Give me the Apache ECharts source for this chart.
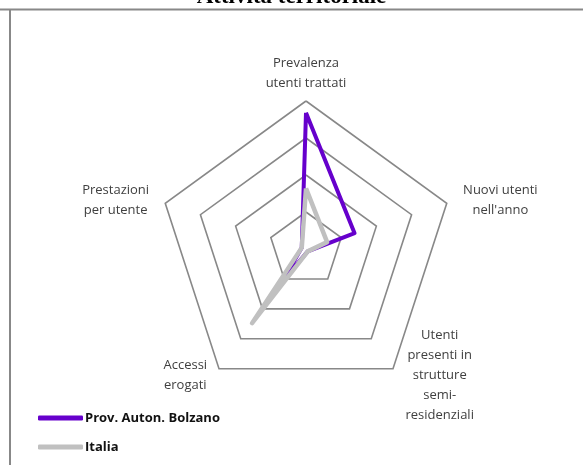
<!DOCTYPE html>
<html style="height: 100%;width: 100%">
<head>
    <meta charset="utf-8">
    <script src="https://cdn.jsdelivr.net/npm/echarts@6/dist/echarts.min.js"></script>
    <style>
        body { margin: 0; background: #fff; }
    </style>
</head>
<body>
<div id="container" style="width: 583px;height: 465px"></div>
<script type="text/javascript">
// indicators listed counter-clockwise from the top (ECharts radar order)
var indicators = [
    'Prevalenza\nutenti trattati',
    'Prestazioni\nper utente',
    'Accessi\nerogati',
    'Utenti\npresenti in\nstrutture\nsemi-\nresidenziali',
    'Nuovi utenti\nnell\'anno'
];
var seriesNames = ['Prov. Auton. Bolzano', 'Italia'];
var bolzano = [0.92, 0.03, 0.27, 0.02, 0.345];
var italia = [0.41, 0.03, 0.62, 0.02, 0.15];

// label box widths so each multi-line name is centred like the original
var nameWidths = [110, 84, 58, 84, 92];
var rich = {};
nameWidths.forEach(function (w, i) {
    rich['n' + i] = { align: 'center', width: w, color: '#404040', fontFamily: 'Open Sans', fontSize: 13, lineHeight: 20 };
});

var myChart = echarts.init(document.getElementById('container'));

var option = {
    backgroundColor: '#ffffff',
    title: {
        text: 'Attività territoriale',
        left: 'center',
        top: -19,
        textStyle: { fontFamily: 'Liberation Serif', fontWeight: 'bold', fontSize: 23, color: '#000' }
    },
    graphic: [
        { type: 'line', shape: { x1: 0, y1: 9.5, x2: 583, y2: 9.5 }, style: { stroke: '#888', lineWidth: 2 } },
        { type: 'line', shape: { x1: 10, y1: 9, x2: 10, y2: 465 }, style: { stroke: '#888', lineWidth: 2 } }
    ],
    legend: {
        orient: 'vertical',
        left: 38,
        top: 409,
        height: 56,
        padding: 0,
        itemWidth: 45,
        itemHeight: 5,
        itemGap: 11,
        icon: 'roundRect',
        data: seriesNames,
        textStyle: { fontFamily: 'Open Sans', fontWeight: 'bold', fontSize: 13, color: '#111', padding: [0, 0, 0, -3], lineHeight: 18 }
    },
    radar: {
        center: [306, 249],
        radius: 148,
        shape: 'polygon',
        splitNumber: 4,
        nameGap: 8,
        indicator: indicators.map(function (n) { return { name: n, max: 1, min: 0 }; }),
        axisName: {
            formatter: function (name) {
                var idx = indicators.indexOf(name);
                return name.split('\n').map(function (l) { return '{n' + idx + '|' + l + '}'; }).join('\n');
            },
            rich: rich
        },
        axisLine: { show: false },
        axisTick: { show: false },
        splitArea: { show: false },
        splitLine: { lineStyle: { color: '#888', width: 1.6 } }
    },
    series: [{
        type: 'radar',
        symbol: 'none',
        data: [
            { name: seriesNames[0], value: bolzano, lineStyle: { color: '#6600CC', width: 4 }, itemStyle: { color: '#6600CC' } },
            { name: seriesNames[1], value: italia, lineStyle: { color: '#C0C0C0', width: 4.5 }, itemStyle: { color: '#C0C0C0' } }
        ]
    }]
};

myChart.setOption(option);
</script>
</body>
</html>
